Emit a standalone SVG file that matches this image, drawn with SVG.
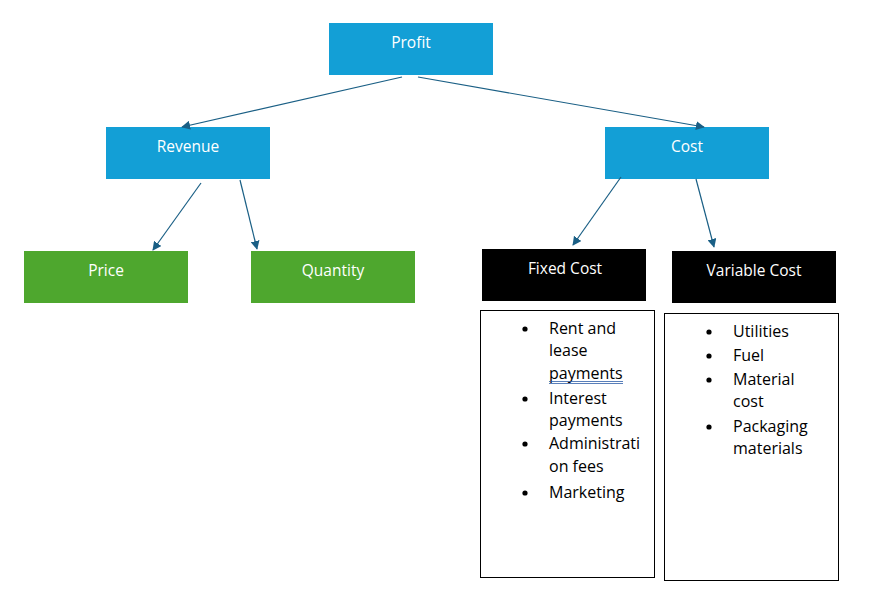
<svg xmlns="http://www.w3.org/2000/svg" width="886" height="601" viewBox="0 0 886 601">
<style>
.blue{fill:#139fd6}
.green{fill:#4ea72e}
.black{fill:#000}
.lbl{font-family:"Open Sans","Liberation Sans",sans-serif;font-size:15.5px;fill:#fff;text-anchor:middle}
.list{fill:#fff;stroke:#000;stroke-width:1}
.item{font-family:"Open Sans","Liberation Sans",sans-serif;font-size:16px;fill:#000}
.conn line{stroke:#1a5f85;stroke-width:1.2;marker-end:url(#ah)}
</style>
<defs>
<marker id="ah" viewBox="0 0 10 10" refX="9" refY="5" markerWidth="9" markerHeight="9" markerUnits="userSpaceOnUse" orient="auto">
<path d="M0,0 L10,5 L0,10 z" fill="#1a5f85"/>
</marker>
</defs>
<rect width="886" height="601" fill="#fff"/>
<g id="profit"><rect class="blue" x="329" y="23" width="164" height="52"/><text class="lbl" x="411" y="48">Profit</text></g>
<g id="revenue"><rect class="blue" x="106" y="127" width="164" height="52"/><text class="lbl" x="188" y="152">Revenue</text></g>
<g id="cost"><rect class="blue" x="605" y="127" width="164" height="52"/><text class="lbl" x="687" y="152">Cost</text></g>
<g id="price"><rect class="green" x="24" y="251" width="164" height="52"/><text class="lbl" x="106" y="276">Price</text></g>
<g id="quantity"><rect class="green" x="251" y="251" width="164" height="52"/><text class="lbl" x="333" y="276">Quantity</text></g>
<g id="fixed"><rect class="black" x="482" y="249" width="164" height="52"/><text class="lbl" x="565" y="274">Fixed Cost</text></g>
<g id="variable"><rect class="black" x="672" y="251" width="164" height="52"/><text class="lbl" x="754" y="276">Variable Cost</text></g>
<g id="fixed-list">
<rect class="list" x="480.5" y="310.5" width="174" height="267"/>
<g fill="#000"><circle cx="525" cy="329" r="2.6"/><circle cx="525" cy="399" r="2.6"/><circle cx="525" cy="444" r="2.6"/><circle cx="525" cy="493" r="2.6"/></g>
<text class="item" x="549" y="334">Rent and</text>
<text class="item" x="549" y="356">lease</text>
<text class="item" x="549" y="379">payments</text>
<line x1="549" y1="381.5" x2="623" y2="381.5" stroke="#2f5ea8" stroke-width="0.8"/>
<line x1="549" y1="383.5" x2="623" y2="383.5" stroke="#2f5ea8" stroke-width="0.8"/>
<text class="item" x="549" y="404">Interest</text>
<text class="item" x="549" y="426">payments</text>
<text class="item" x="549" y="449">Administrati</text>
<text class="item" x="549" y="472">on fees</text>
<text class="item" x="549" y="498">Marketing</text>
</g>
<g id="variable-list">
<rect class="list" x="664.5" y="313.5" width="174" height="267"/>
<g fill="#000"><circle cx="709" cy="332" r="2.6"/><circle cx="709" cy="356" r="2.6"/><circle cx="709" cy="380" r="2.6"/><circle cx="709" cy="427" r="2.6"/></g>
<text class="item" x="733" y="337">Utilities</text>
<text class="item" x="733" y="361">Fuel</text>
<text class="item" x="733" y="385">Material</text>
<text class="item" x="733" y="407">cost</text>
<text class="item" x="733" y="432">Packaging</text>
<text class="item" x="733" y="454">materials</text>
</g>
<g class="conn" id="connectors">
<line x1="402" y1="77" x2="182" y2="127"/>
<line x1="418" y1="77" x2="704" y2="127"/>
<line x1="201" y1="183" x2="153" y2="250"/>
<line x1="240" y1="180" x2="257" y2="249"/>
<line x1="621" y1="177" x2="573" y2="245"/>
<line x1="696" y1="179" x2="714" y2="247"/>
</g>
</svg>
